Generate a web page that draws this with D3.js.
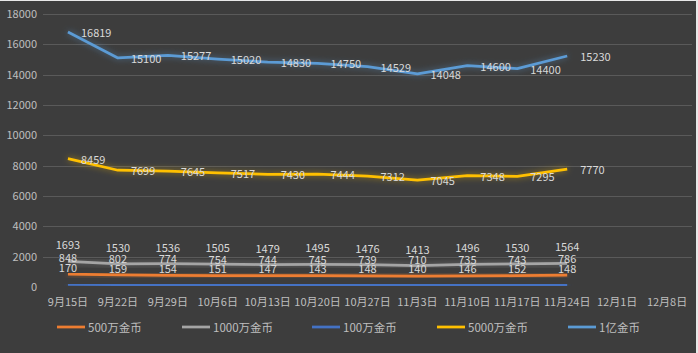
<!DOCTYPE html>
<html>
<head>
<meta charset="utf-8">
<script src="https://cdn.jsdelivr.net/npm/d3@7"></script>
<style>
  html, body { margin: 0; padding: 0; background: #ffffff; }
  svg { display: block; }
</style>
</head>
<body>
<div id="chart"></div>
<script>
var categories = ['9月15日', '9月22日', '9月29日', '10月6日', '10月13日', '10月20日', '10月27日', '11月3日', '11月10日', '11月17日', '11月24日', '12月1日', '12月8日'];
var yTicks = [0, 2000, 4000, 6000, 8000, 10000, 12000, 14000, 16000, 18000];

var s500 = [848, 802, 774, 754, 744, 745, 739, 710, 735, 743, 786];
var s1000 = [1693, 1530, 1536, 1505, 1479, 1495, 1476, 1413, 1496, 1530, 1564];
var s100 = [170, 159, 154, 151, 147, 143, 148, 140, 146, 152, 148];
var s5000 = [8459, 7699, 7645, 7517, 7430, 7444, 7312, 7045, 7348, 7295, 7770];
var s1yi = [16819, 15100, 15277, 15020, 14830, 14750, 14529, 14048, 14600, 14400, 15230];

var seriesNames = ['500万金币', '1000万金币', '100万金币', '5000万金币', '1亿金币'];
var seriesColors = ['#ED7D31', '#A5A5A5', '#4472C4', '#FFC000', '#5B9BD5'];

var width = 698, height = 353;
var fontFamily = '"Noto Sans CJK SC", "Noto Sans", sans-serif';

var svg = d3.select('#chart').append('svg').attr('width', width).attr('height', height);

// background + thin light frame
svg.append('rect').attr('x', 0).attr('y', 0).attr('width', width).attr('height', height).attr('fill', '#e8e8e8');
svg.append('rect').attr('x', 0).attr('y', 1).attr('width', 696).attr('height', 352).attr('fill', '#3d3d3d');

var defs = svg.append('defs');
var glow = defs.append('filter').attr('id', 'glow').attr('x', '-10%').attr('y', '-50%').attr('width', '120%').attr('height', '200%');
glow.append('feGaussianBlur').attr('in', 'SourceGraphic').attr('stdDeviation', 3).attr('result', 'blur');
glow.append('feComponentTransfer').attr('in', 'blur').attr('result', 'soft')
    .append('feFuncA').attr('type', 'linear').attr('slope', 0.55);
var merge = glow.append('feMerge');
merge.append('feMergeNode').attr('in', 'soft');
merge.append('feMergeNode').attr('in', 'SourceGraphic');

var x = d3.scaleBand().domain(categories).range([43, 692]);
var y = d3.scaleLinear().domain([0, 18000]).range([287, 14]);
var cx = function(i) { return x(categories[i]) + x.bandwidth() / 2; };

// gridlines
svg.append('g').selectAll('line').data(yTicks.slice(1)).enter().append('line')
    .attr('x1', 43).attr('x2', 692)
    .attr('y1', function(d) { return Math.round(y(d)) + 0.5; })
    .attr('y2', function(d) { return Math.round(y(d)) + 0.5; })
    .attr('stroke', '#5a5a5a').attr('stroke-width', 1);

// y axis labels
var yAxis = svg.append('g').attr('transform', 'translate(37,0)')
    .call(d3.axisLeft(y).tickValues(yTicks).tickSize(0).tickPadding(0).tickFormat(d3.format('d')));
yAxis.select('.domain').remove();
yAxis.selectAll('text').attr('fill', '#bfbfbf').style('font-family', fontFamily).style('font-size', '11px');

// x axis labels
var xAxis = svg.append('g').attr('transform', 'translate(0,298)')
    .call(d3.axisBottom(x).tickSize(0).tickPadding(0));
xAxis.select('.domain').remove();
xAxis.selectAll('text').attr('fill', '#bfbfbf').attr('dy', '0.71em').style('font-family', fontFamily).style('font-size', '11px');

var allSeries = [s500, s1000, s100, s5000, s1yi];
var line = d3.line().x(function(d, i) { return cx(i); }).y(function(d) { return y(d); });

// draw lines (top series last)
var drawOrder = [2, 0, 1, 3, 4];
drawOrder.forEach(function(k) {
    svg.append('path').datum(allSeries[k])
        .attr('d', line)
        .attr('fill', 'none')
        .attr('stroke', seriesColors[k])
        .attr('stroke-width', 2.75)
        .attr('stroke-linejoin', 'round')
        .attr('filter', 'url(#glow)');
});

var labelStyle = 'font-family:' + fontFamily + '; font-size:11px; fill:#d9d9d9';

// low series: labels centered above points
[0, 1, 2].forEach(function(k) {
    svg.append('g').selectAll('text').data(allSeries[k]).enter().append('text')
        .attr('x', function(d, i) { return cx(i); })
        .attr('y', function(d) { return y(d) - 17; })
        .attr('text-anchor', 'middle')
        .attr('dominant-baseline', 'central')
        .attr('style', labelStyle)
        .text(function(d) { return d; });
});

// high series: labels to the right of points
[3, 4].forEach(function(k) {
    svg.append('g').selectAll('text').data(allSeries[k]).enter().append('text')
        .attr('x', function(d, i) { return cx(i) + 13; })
        .attr('y', function(d) { return y(d); })
        .attr('text-anchor', 'start')
        .attr('dominant-baseline', 'central')
        .attr('style', labelStyle)
        .text(function(d) { return d; });
});

// legend
var legendX = [57, 182, 312, 437, 568];
var legend = svg.append('g');
seriesNames.forEach(function(name, k) {
    legend.append('line')
        .attr('x1', legendX[k]).attr('x2', legendX[k] + 28)
        .attr('y1', 327).attr('y2', 327)
        .attr('stroke', seriesColors[k]).attr('stroke-width', 2.75);
    legend.append('text')
        .attr('x', legendX[k] + 31).attr('y', 327)
        .attr('dominant-baseline', 'central')
        .attr('style', 'font-family:' + fontFamily + '; font-size:11.5px; fill:#bfbfbf')
        .text(name);
});
</script>
</body>
</html>
